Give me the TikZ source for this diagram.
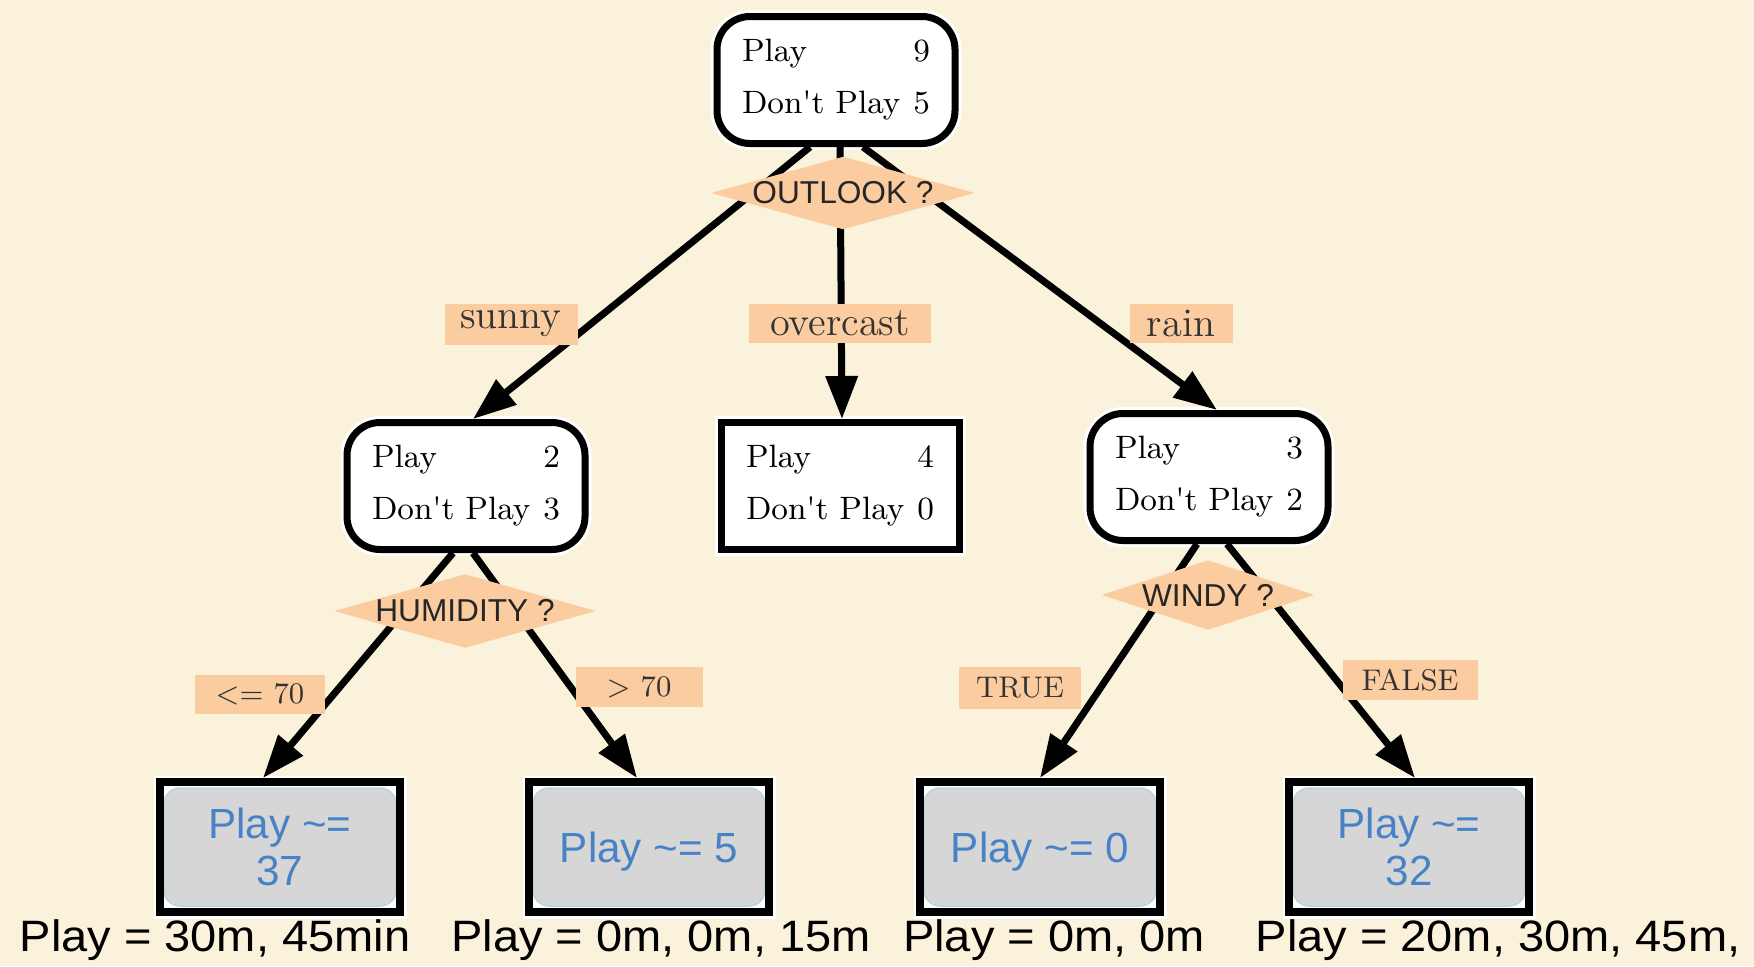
\documentclass[tikz,border=0pt]{standalone}
\usepackage{fontspec}
\newfontfamily\arialfont{Liberation Sans}
\newfontfamily\widefont[FakeStretch=1.07]{Liberation Sans}
\usetikzlibrary{arrows.meta, shapes.geometric}
\definecolor{parchment}{RGB}{250,242,218}
\definecolor{peach}{RGB}{251,204,160}
\definecolor{leafgrey}{RGB}{214,214,214}
\definecolor{leafedge}{RGB}{178,214,226}
\definecolor{leafblue}{RGB}{72,130,198}

\begin{document}
\begin{tikzpicture}[
	x=0.1mm, y=-0.1mm,
	> = {Triangle[length=4.3mm, width=3.1mm]},
	count/.style = {draw, line width=0.7mm, fill=white,
		rounded corners=3.3mm, inner sep=0pt,
		minimum width=23.8mm, minimum height=12.7mm,
		text width=18.8mm, align=left,
		preaction={draw=white, line width=1.3mm},
		font=\fontsize{9.2}{14.8}\selectfont},
	countsq/.style = {count, sharp corners},
	cond/.style = {diamond, fill=peach, inner sep=0pt},
	condtext/.style = {font=\arialfont\fontsize{9}{10}\selectfont, text=black!85},
	cut/.style = {fill=peach, inner sep=0pt, minimum height=3.9mm,
		text=black!80, font=\fontsize{11.5}{12}\selectfont},
	cutsmall/.style = {cut, font=\fontsize{8.5}{9}\selectfont},
	leaf/.style = {draw, line width=0.8mm, fill=white,
		minimum width=24mm, minimum height=13mm, align=center,
		preaction={draw=white, line width=1.3mm},
		path picture={
			\fill[leafgrey, draw=leafedge, line width=0.15mm, rounded corners=1.6mm]
			([shift={(0.4mm,0.6mm)}]path picture bounding box.south west) rectangle
			([shift={(-0.4mm,-0.6mm)}]path picture bounding box.north east);
		},
		text=leafblue, font=\arialfont\fontsize{12}{13.4}\selectfont},
	tally/.style = {anchor=base, inner sep=0pt,
		font=\widefont\fontsize{12.5}{14}\selectfont},
	branch/.style = {->, line width=0.7mm},
	]
	\fill[parchment] (0,0) rectangle (1754,966);
	\useasboundingbox (0,0) rectangle (1754,966);
	% counts
	\node[count] (root) at (836,80) {Play\hfill 9\\Don\textquotesingle t Play\hfill 5};
	\node[count] (sunny) at (466,486) {Play\hfill 2\\Don\textquotesingle t Play\hfill 3};
	\node[countsq] (overcast) at (840,486) {Play\hfill 4\\Don\textquotesingle t Play\hfill 0};
	\node[count] (rain) at (1209,477) {Play\hfill 3\\Don\textquotesingle t Play\hfill 2};
	% leaves
	\node[leaf] (hum1) at (280,847) {Play \textasciitilde=\\37};
	\node[leaf, text depth=0pt] (hum2) at (649,847) {Play \textasciitilde= 5};
	\node[leaf, text depth=0pt] (wind1) at (1040,847) {Play \textasciitilde= 0};
	\node[leaf] (wind2) at (1409,847) {Play \textasciitilde=\\32};
	% branches
	\draw[branch] ([xshift=-2.6mm]root.south) -- ([xshift=0.7mm]sunny.north);
	\draw[branch] ([xshift=0.4mm]root.south) -- ([xshift=0.2mm]overcast.north);
	\draw[branch] ([xshift=2.7mm]root.south) -- ([xshift=0.8mm]rain.north);
	\draw[branch] ([xshift=-1.3mm]sunny.south) -- ([xshift=-1.7mm]hum1.north);
	\draw[branch] ([xshift=0.7mm]sunny.south) -- ([xshift=-1.2mm]hum2.north);
	\draw[branch] ([xshift=-1.2mm]rain.south) -- (wind1.north);
	\draw[branch] ([xshift=1.8mm]rain.south) -- ([xshift=0.6mm]wind2.north);
	% questions
	\node[cond, minimum width=26.4mm, minimum height=7.3mm,
		label={[condtext]center:OUTLOOK ?}] (outlook) at (843,193) {};
	\node[cond, minimum width=26.2mm, minimum height=7.4mm,
		label={[condtext]center:HUMIDITY ?}] (humidity) at (465,611) {};
	\node[cond, minimum width=21.3mm, minimum height=7mm,
		label={[condtext]center:WINDY ?}] (windy) at (1208,595) {};
	% branch labels
	\node[cut, minimum width=13.3mm, minimum height=4.1mm] (lsunny) at (511,324) {sunny};
	\node[cut, minimum width=18.2mm] (lovercast) at (840,323) {overcast};
	\node[cut, minimum width=10.3mm] (lrain) at (1181,323) {rain};
	\node[cutsmall, minimum width=13mm] (llow) at (260,694) {<= 70};
	\node[cutsmall, minimum width=12.7mm, minimum height=4mm] (lhigh) at (639,687) {> 70};
	\node[cutsmall, minimum width=12.2mm, minimum height=4.2mm] (ltrue) at (1020,688) {TRUE};
	\node[cutsmall, minimum width=13.5mm, minimum height=4mm] (lfalse) at (1410,680) {FALSE};
	% times
	\node[tally] (time1) at (215,951) {Play = 30m, 45min};
	\node[tally] (time2) at (661,951) {Play = 0m, 0m, 15m};
	\node[tally] (time3) at (1054,951) {Play = 0m, 0m};
	\node[tally] (time4) at (1498,951) {Play = 20m, 30m, 45m,};
\end{tikzpicture}
\end{document}
